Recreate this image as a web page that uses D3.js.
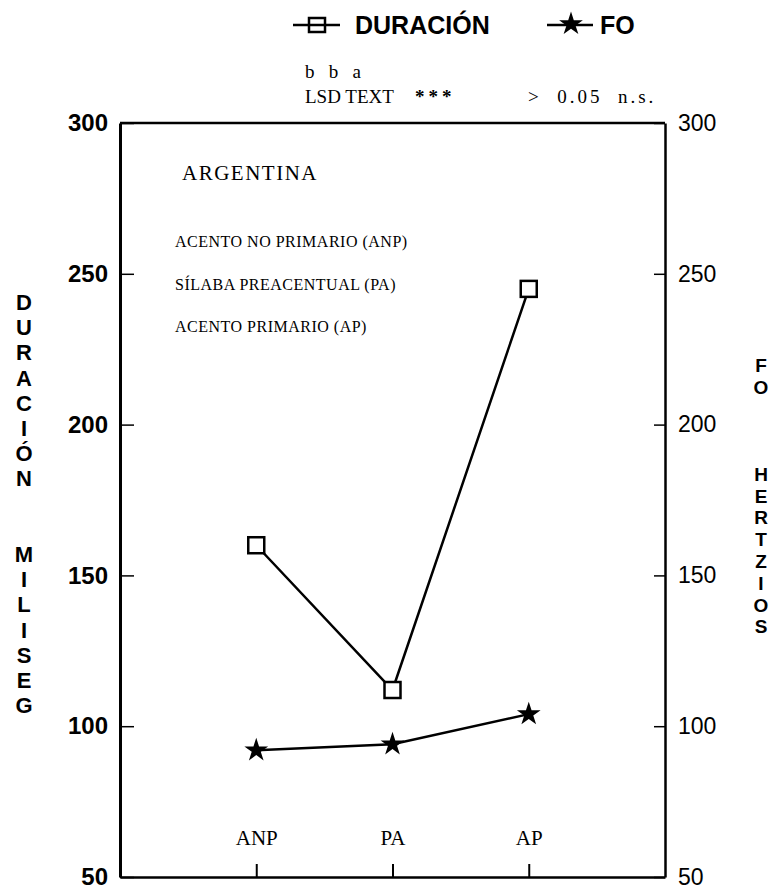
<!DOCTYPE html>
<html>
<head>
<meta charset="utf-8">
<script src="https://cdn.jsdelivr.net/npm/d3@7"></script>
<style>
  body { margin: 0; background: #fff; }
  text { fill: #000; }
</style>
</head>
<body>
<div id="chart"></div>
<script>
// data
var categories = ["ANP", "PA", "AP"];
var duracion = [160, 112, 245];   // milliseconds
var fo = [92, 94, 104];           // hertz
var yTicks = [300, 250, 200, 150, 100, 50];
var leftTitle = ["D", "U", "R", "A", "C", "I", "Ó", "N", "", "", "M", "I", "L", "I", "S", "E", "G"];
var rightTitle = ["F", "O", "", "", "", "H", "E", "R", "T", "Z", "I", "O", "S"];
var notes = ["ACENTO NO PRIMARIO (ANP)", "SÍLABA PREACENTUAL (PA)", "ACENTO PRIMARIO (AP)"];

var W = 769, H = 891;
var sans = "'Liberation Sans', Arial, sans-serif";
var serif = "'Liberation Serif', 'Times New Roman', serif";

var svg = d3.select("#chart").append("svg")
    .attr("width", W)
    .attr("height", H);

var x = d3.scalePoint()
    .domain(categories)
    .range([120, 665])
    .padding(1);

var y = d3.scaleLinear()
    .domain([50, 300])
    .range([877, 123]);

// frame top
svg.append("line")
    .attr("x1", x.range()[0]).attr("x2", x.range()[1])
    .attr("y1", y(300)).attr("y2", y(300))
    .attr("stroke", "#000").attr("stroke-width", 2.5);

// left axis (ticks inward)
var gl = svg.append("g")
    .attr("transform", "translate(120,0)")
    .call(d3.axisLeft(y).tickValues(yTicks).tickSize(-14).tickSizeOuter(0).tickPadding(12))
    .attr("font-family", sans)
    .attr("font-size", "24px")
    .attr("font-weight", "bold");
gl.select(".domain").attr("stroke-width", 3);
gl.selectAll(".tick line").attr("stroke-width", 1.5);

// right axis
var gr = svg.append("g")
    .attr("transform", "translate(665,0)")
    .call(d3.axisRight(y).tickValues(yTicks).tickSize(-11).tickSizeOuter(0).tickPadding(13))
    .attr("font-family", sans)
    .attr("font-size", "23px");
gr.select(".domain").attr("stroke-width", 2.5);
gr.selectAll(".tick line").attr("stroke-width", 1.5);

// bottom axis, labels sit above the ticks
var gb = svg.append("g")
    .attr("transform", "translate(0,877)")
    .call(d3.axisTop(x).tickSize(13).tickSizeOuter(0).tickPadding(19))
    .attr("font-family", serif)
    .attr("font-size", "21px");
gb.select(".domain").attr("stroke-width", 2.5);
gb.selectAll(".tick line").attr("stroke-width", 2);

// lines
var line = d3.line()
    .x(function(d, i) { return x(categories[i]); })
    .y(function(d) { return y(d); });

svg.append("path")
    .datum(duracion)
    .attr("d", line)
    .attr("fill", "none")
    .attr("stroke", "#000")
    .attr("stroke-width", 2.5);

svg.append("path")
    .datum(fo)
    .attr("d", line)
    .attr("fill", "none")
    .attr("stroke", "#000")
    .attr("stroke-width", 2.5);

// markers
svg.selectAll(".sq")
    .data(duracion)
    .enter()
    .append("rect")
      .attr("x", function(d, i) { return x(categories[i]) - 8; })
      .attr("y", function(d) { return y(d) - 8; })
      .attr("width", 16)
      .attr("height", 16)
      .attr("fill", "#fff")
      .attr("stroke", "#000")
      .attr("stroke-width", 2.5);

var star = d3.symbol().type(d3.symbolStar).size(175);
svg.selectAll(".st")
    .data(fo)
    .enter()
    .append("path")
      .attr("d", star)
      .attr("transform", function(d, i) { return "translate(" + x(categories[i]) + "," + y(d) + ")"; })
      .attr("fill", "#000");

// legend
svg.append("line")
    .attr("x1", 293).attr("x2", 340).attr("y1", 25).attr("y2", 25)
    .attr("stroke", "#000").attr("stroke-width", 2.5);
svg.append("rect")
    .attr("x", 309).attr("y", 18).attr("width", 16).attr("height", 14)
    .attr("fill", "none").attr("stroke", "#000").attr("stroke-width", 2.5);
svg.append("text")
    .attr("x", 355).attr("y", 34)
    .attr("font-family", sans).attr("font-size", "25px").attr("font-weight", "bold")
    .text("DURACIÓN");

svg.append("line")
    .attr("x1", 547).attr("x2", 593).attr("y1", 25).attr("y2", 25)
    .attr("stroke", "#000").attr("stroke-width", 2.5);
svg.append("path")
    .attr("d", star)
    .attr("transform", "translate(571,24)")
    .attr("fill", "#000");
svg.append("text")
    .attr("x", 600).attr("y", 34)
    .attr("font-family", sans).attr("font-size", "25px").attr("font-weight", "bold")
    .text("FO");

// LSD note
svg.append("text")
    .attr("x", 305).attr("y", 78)
    .attr("font-family", serif).attr("font-size", "19px")
    .style("white-space", "pre")
    .text("b   b   a");
svg.append("text")
    .attr("x", 305).attr("y", 103)
    .attr("font-family", serif).attr("font-size", "19px")
    .text("LSD TEXT");
svg.append("text")
    .attr("x", 415).attr("y", 103)
    .attr("font-family", serif).attr("font-size", "19px").attr("font-weight", "bold")
    .attr("letter-spacing", "4px")
    .text("***");
svg.append("text")
    .attr("x", 528).attr("y", 103)
    .attr("font-family", serif).attr("font-size", "19px")
    .attr("letter-spacing", "3px")
    .style("white-space", "pre")
    .text(">  0.05  n.s.");

// in-plot text
svg.append("text")
    .attr("x", 182).attr("y", 180)
    .attr("font-family", serif).attr("font-size", "21px")
    .attr("letter-spacing", "1.5px")
    .text("ARGENTINA");

svg.selectAll(".note")
    .data(notes)
    .enter()
    .append("text")
      .attr("x", 175)
      .attr("y", function(d, i) { return 247 + i * 42.5; })
      .attr("font-family", serif)
      .attr("font-size", "16px")
      .attr("letter-spacing", "0.5px")
      .text(function(d) { return d; });

// stacked axis titles
svg.selectAll(".lt")
    .data(leftTitle)
    .enter()
    .append("text")
      .attr("x", 24)
      .attr("y", function(d, i) { return 302 + i * 25.2; })
      .attr("dy", "0.36em")
      .attr("text-anchor", "middle")
      .attr("font-family", sans).attr("font-size", "22px").attr("font-weight", "bold")
      .text(function(d) { return d; });

svg.selectAll(".rt")
    .data(rightTitle)
    .enter()
    .append("text")
      .attr("x", 761)
      .attr("y", function(d, i) { return 365 + i * 21.8; })
      .attr("dy", "0.36em")
      .attr("text-anchor", "middle")
      .attr("font-family", sans).attr("font-size", "19px").attr("font-weight", "bold")
      .text(function(d) { return d; });
</script>
</body>
</html>
